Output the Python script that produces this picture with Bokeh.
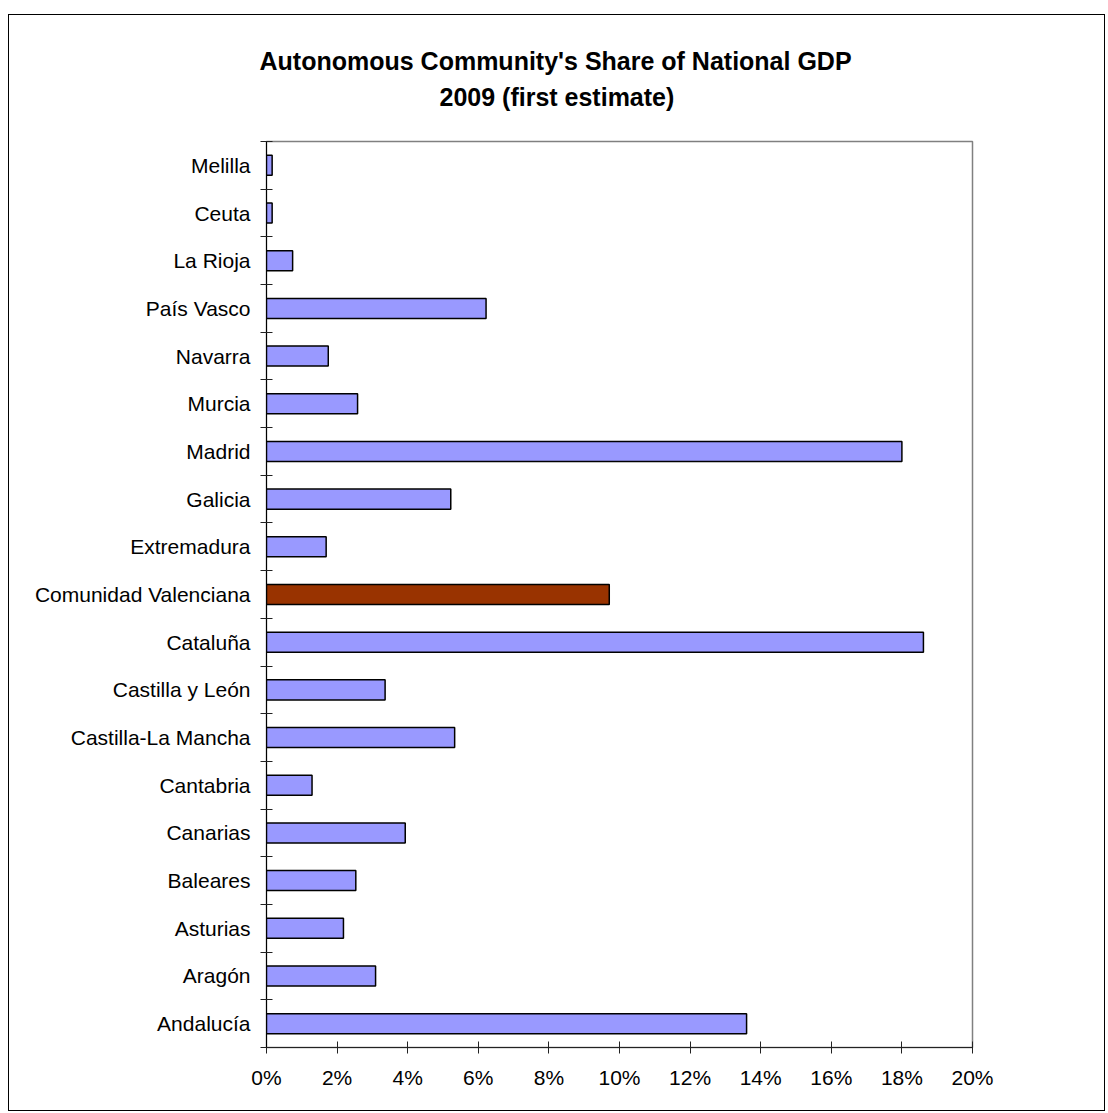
from bokeh.plotting import figure
from bokeh.models import (FixedTicker, NumeralTickFormatter, Range1d, Title, ColumnDataSource)
from bokeh.embed import file_html
from bokeh.resources import INLINE

categories = ["Andalucía", "Aragón", "Asturias", "Baleares", "Canarias", "Cantabria",
              "Castilla-La Mancha", "Castilla y León", "Cataluña", "Comunidad Valenciana",
              "Extremadura", "Galicia", "Madrid", "Murcia", "Navarra", "País Vasco",
              "La Rioja", "Ceuta", "Melilla"]
values_pct = [13.6, 3.09, 2.18, 2.53, 3.93, 1.29, 5.33, 3.36, 18.61, 9.71,
              1.69, 5.22, 18.0, 2.58, 1.75, 6.22, 0.74, 0.16, 0.16]
highlight = "Comunidad Valenciana"
x_ticks_pct = [0, 2, 4, 6, 8, 10, 12, 14, 16, 18, 20]
title_line1 = "Autonomous Community's Share of National GDP"
title_line2 = "2009 (first estimate)"

FONT = "Liberation Sans"
n = len(categories)
centers = [i + 0.5 for i in range(n)]
colors = ["#993300" if c == highlight else "#9999FF" for c in categories]
src = ColumnDataSource(dict(y=centers, right=[v / 100 for v in values_pct], color=colors, cat=categories))

p = figure(width=1097, height=1097, output_backend="svg", toolbar_location=None,
           x_range=Range1d(0, 0.20), y_range=Range1d(0, n),
           min_border_left=257, min_border_right=134, min_border_top=126, min_border_bottom=65,
           title=None)
p.margin = (14, 0, 0, 8)
p.styles = {"border": "1px solid #000000"}

p.hbar(y="y", left=0, right="right", height=0.42, source=src,
       fill_color="color", line_color="black", line_width=1.5)

# titles: left aligned with offsets so that they are centred on the whole chart area
p.add_layout(Title(text=title_line2, align="left", offset=173, text_font=FONT, text_font_size="25px",
                   text_font_style="bold", text_color="black", standoff=61), "above")
p.add_layout(Title(text=title_line1, align="left", offset=-7, text_font=FONT, text_font_size="25px",
                   text_font_style="bold", text_color="black", standoff=-49), "above")

# axes
p.xgrid.visible = False
p.ygrid.visible = False
p.outline_line_color = "#808080"
p.outline_line_width = 1.5

xa = p.xaxis[0]
xa.ticker = FixedTicker(ticks=[t / 100 for t in x_ticks_pct])
xa.formatter = NumeralTickFormatter(format="0%")
xa.major_tick_in = 6
xa.major_tick_out = 6
xa.minor_tick_line_color = None
xa.axis_line_color = "#222222"
xa.major_tick_line_color = "#222222"
xa.major_label_text_font = FONT
xa.major_label_text_font_size = "21px"
xa.major_label_text_color = "black"
xa.major_label_standoff = 12

ya = p.yaxis[0]
ya.ticker = FixedTicker(ticks=centers, minor_ticks=list(range(n + 1)))
ya.major_label_overrides = {c: lab for c, lab in zip(centers, categories)}
ya.major_tick_line_color = None
ya.minor_tick_line_color = "#222222"
ya.minor_tick_in = 6
ya.minor_tick_out = 6
ya.axis_line_color = "black"
ya.major_label_text_font = FONT
ya.major_label_text_font_size = "21px"
ya.major_label_text_color = "black"
ya.major_label_standoff = 10

open("out.html", "w").write(file_html(p, INLINE))
